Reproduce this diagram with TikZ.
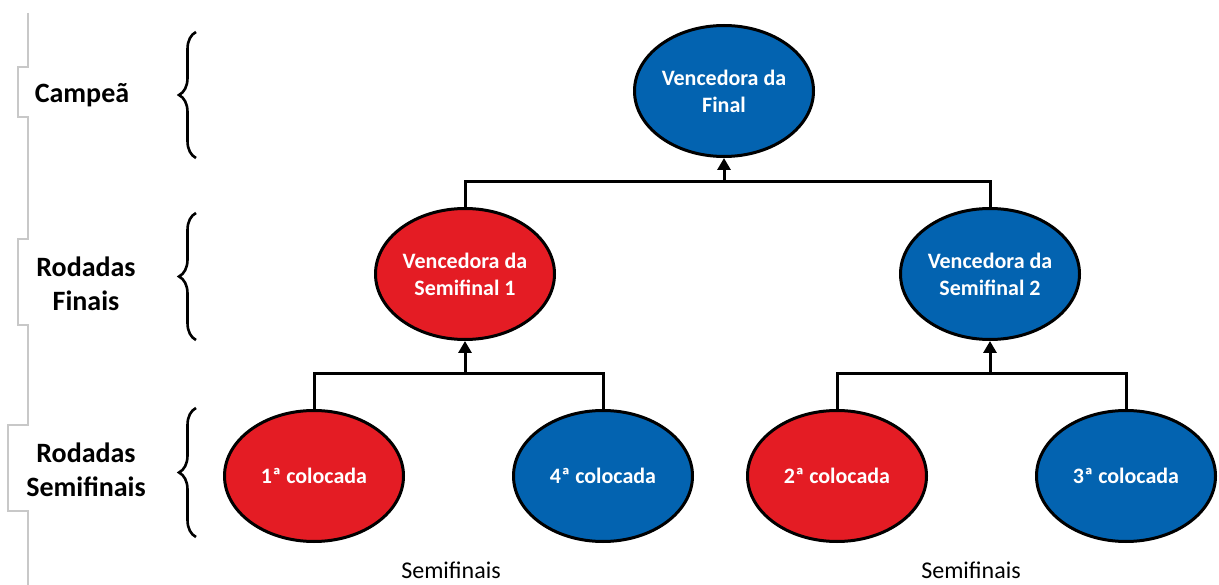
\documentclass[tikz,border=0pt]{standalone}
\usepackage{fontspec}
\setmainfont{Carlito}
\usetikzlibrary{shapes.geometric,arrows.meta,decorations.pathreplacing}
\definecolor{tred}{RGB}{228,28,36}
\definecolor{tblue}{RGB}{3,99,176}
\definecolor{pgray}{RGB}{200,200,200}
\tikzset{
  team/.style={ellipse, draw=black, line width=3pt, minimum width=179pt, minimum height=131pt,
    inner sep=0pt, text=white, align=center, font=\bfseries\fontsize{22}{27}\selectfont},
  redteam/.style={team, fill=tred},
  blueteam/.style={team, fill=tblue},
  conn/.style={line width=3pt},
  arr/.style={line width=3pt, -{Triangle[width=13pt,length=12pt]}},
  roundlabel/.style={align=center, font=\bfseries\fontsize{28}{34}\selectfont},
  bracket/.style={decorate, decoration={brace, amplitude=17pt}, line width=2.6pt},
  caption/.style={font=\fontsize{24}{29}\selectfont, inner sep=0pt, anchor=base},
  panel/.style={draw=pgray, line width=1.2pt}
}
\begin{document}
\begin{tikzpicture}[x=1pt,y=-1pt]
\useasboundingbox (0,0) rectangle (1219,585);
\fill[white] (0,0) rectangle (1219,585);
% faint panel outline on the left
\draw[panel] (28,13) -- (28,67) -- (18,67) -- (18,117) -- (28,117) -- (28,239) -- (18,239) -- (18,325) -- (28,325) -- (28,425) -- (8,425) -- (8,511) -- (28,511) -- (28,585);
% round labels
\node[roundlabel] (lcamp) at (82,95) {Campeã};
\node[roundlabel] (lfin) at (86,284) {Rodadas\\Finais};
\node[roundlabel] (lsemi) at (86,470) {Rodadas\\Semifinais};
% braces
\draw[bracket] (196,158) -- (196,32);
\draw[bracket] (196,340) -- (196,213);
\draw[bracket] (196,537) -- (196,408);
% teams
\node[blueteam] (fin) at (724,91) {Vencedora da\\Final};
\node[redteam] (sf1) at (465,274) {Vencedora da\\Semifinal 1};
\node[blueteam] (sf2) at (990,274) {Vencedora da\\Semifinal 2};
\node[redteam] (c1) at (314,476) {1ª colocada};
\node[blueteam] (c4) at (603,476) {4ª colocada};
\node[redteam] (c2) at (837,476) {2ª colocada};
\node[blueteam] (c3) at (1126,476) {3ª colocada};
% junctions
\coordinate (j1) at (724,182);
\coordinate (j2) at (465,374);
\coordinate (j3) at (990,374);
% connectors
\draw[conn] (sf1.north) |- (j1) -| (sf2.north);
\draw[arr] (j1) -- (fin.south);
\draw[conn] (c1.north) |- (j2) -| (c4.north);
\draw[arr] (j2) -- (sf1.south);
\draw[conn] (c2.north) |- (j3) -| (c3.north);
\draw[arr] (j3) -- (sf2.south);
% captions
\node[caption] (cap1) at (451,578) {Semifinais};
\node[caption] (cap2) at (971,578) {Semifinais};
\end{tikzpicture}
\end{document}
